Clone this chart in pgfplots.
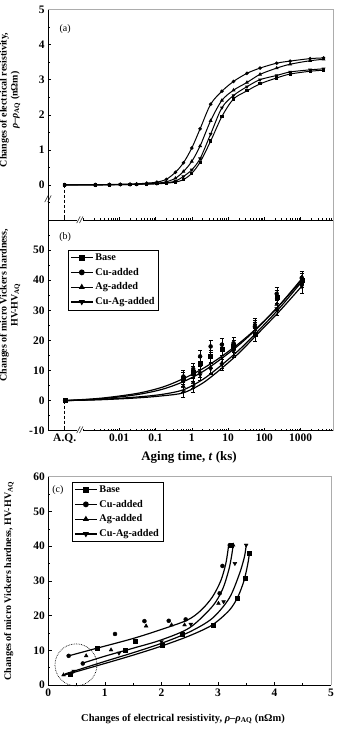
\documentclass[border=0pt]{standalone}
\usepackage{pgfplots}
\pgfplotsset{compat=1.18}
\usepackage{fontspec}
\setmainfont{Liberation Serif}

% log-time minor ticks (time axis is plotted as log10 of t in ks)
\def\logminor{-3,-2.699,-2.523,-2.398,-2.301,-2.222,-2.155,-2.097,-2.046,
 -1.699,-1.523,-1.398,-1.301,-1.222,-1.155,-1.097,-1.046,
 -0.699,-0.523,-0.398,-0.301,-0.222,-0.155,-0.097,-0.046,
 0.301,0.477,0.602,0.699,0.778,0.845,0.903,0.954,
 1.301,1.477,1.602,1.699,1.778,1.845,1.903,1.954,
 2.301,2.477,2.602,2.699,2.778,2.845,2.903,2.954,
 3.301,3.477,3.602,3.699,3.778,3.845}

\tikzset{brk/.style={font=\fontsize{10}{10}\selectfont\bfseries\itshape, inner sep=0.3pt}}

\pgfplotsset{
  panel/.style={
    scale only axis,
    axis x line*=bottom, axis y line*=left,
    tick align=inside,
    major tick length=3.2bp, minor tick length=1.8bp,
    every tick/.style={black, line width=0.5pt},
    axis line style={black, line width=0.7pt},
    /pgf/number format/assume math mode=true,
    tick label style={font=\fontsize{11.5}{13}\selectfont\bfseries},
    clip mode=individual,
  },
  grayframe/.style={after end axis/.code={
    \draw[gray!65, line width=0.6pt] (rel axis cs:0,1) -- (rel axis cs:1,1) -- (rel axis cs:1,0);}},
  grayright/.style={after end axis/.code={
    \draw[gray!65, line width=0.6pt] (rel axis cs:1,1) -- (rel axis cs:1,0);}},
  fitline/.style={black, line width=1.2pt, smooth, no markers},
  mSq/.style={mark=square*, mark options={fill=black, draw=black, solid}},
  mCi/.style={mark=*, mark options={fill=black, draw=black, solid}},
  mUp/.style={mark=triangle*, mark options={fill=black, draw=black, solid}},
  mDn/.style={mark=triangle*, mark options={fill=black, draw=black, solid, rotate=180}},
  legstyle/.style={legend cell align=left,
    legend style={draw=black, line width=0.5pt, fill=white,
      font=\fontsize{10.3}{12}\selectfont\bfseries, inner xsep=2pt, inner ysep=1.5pt,
      row sep=2.2bp, /tikz/every even column/.append style={column sep=2bp}},
    legend image code/.code={\draw[mark repeat=2,mark phase=2, line width=1.2pt, mark size=2.3bp]
      plot coordinates {(0bp,0bp) (11bp,0bp) (22bp,0bp)};}},
}

\begin{document}
\begin{tikzpicture}
\path[use as bounding box] (0,0) rectangle (339bp,-729bp);

% ---------------- (a) resistivity vs aging time ----------------
\begin{axis}[panel, grayframe, at={(48bp,-9.5bp)}, anchor=north west,
  width=285bp, height=210.5bp,
  xmin=-3.96, xmax=3.89, ymin=-1, ymax=5,
  xtick={-3.5,-2,-1,0,1,2,3}, xticklabels={,,,,,,}, minor xtick=\logminor,
  ytick={0,1,2,3,4,5}, minor ytick={-0.5,0.5,1.5,2.5,3.5,4.5}]
\addplot[black, line width=1pt, smooth, mCi, mark size=1.2bp] coordinates {
 (-3.5,0) (-2.66,0.01) (-2.27,0.01) (-1.97,0.02) (-1.70,0.02) (-1.52,0.03) (-1.24,0.05)
 (-0.96,0.08) (-0.70,0.16) (-0.45,0.36) (-0.23,0.63) (0.0,1.05) (0.23,1.60) (0.52,2.30)
 (0.83,2.67) (1.15,2.95) (1.52,3.18) (1.88,3.33) (2.34,3.47) (2.71,3.53) (3.26,3.60) (3.63,3.62)};
\addplot[black, line width=1pt, smooth, mUp, mark size=1.3bp] coordinates {
 (-3.5,0) (-2.66,0.00) (-2.27,0.01) (-1.97,0.01) (-1.70,0.02) (-1.52,0.02) (-1.24,0.04)
 (-0.96,0.05) (-0.70,0.09) (-0.45,0.19) (-0.23,0.38) (0.0,0.67) (0.23,1.11) (0.52,1.83)
 (0.83,2.41) (1.15,2.70) (1.52,2.92) (1.88,3.15) (2.34,3.33) (2.71,3.44) (3.26,3.54) (3.63,3.58)};
\addplot[black, line width=1pt, smooth, mDn, mark size=1.3bp] coordinates {
 (-3.5,0) (-2.66,0.00) (-2.27,0.01) (-1.97,0.01) (-1.70,0.01) (-1.52,0.02) (-1.24,0.03)
 (-0.96,0.04) (-0.70,0.06) (-0.45,0.11) (-0.23,0.24) (0.0,0.43) (0.23,0.75) (0.52,1.45)
 (0.83,2.20) (1.15,2.55) (1.52,2.80) (1.88,3.00) (2.34,3.12) (2.71,3.22) (3.26,3.28) (3.63,3.31)};
\addplot[black, line width=1pt, smooth, mSq, mark size=1.1bp] coordinates {
 (-3.5,0) (-2.66,0.00) (-2.27,0.00) (-1.97,0.01) (-1.70,0.01) (-1.52,0.02) (-1.24,0.02)
 (-0.96,0.03) (-0.70,0.05) (-0.45,0.08) (-0.23,0.15) (0.0,0.33) (0.23,0.65) (0.52,1.25)
 (0.83,1.95) (1.15,2.45) (1.52,2.68) (1.88,2.88) (2.34,3.05) (2.71,3.16) (3.26,3.24) (3.63,3.27)};
\draw[densely dashed, line width=0.8pt] (axis cs:-3.5,0) -- (axis cs:-3.5,-1);
\node[brk] at (axis cs:-3.96,-0.41) {//};
\node[font=\fontsize{10}{12}\selectfont] at (rel axis cs:0.06,0.907) {(a)};
\end{axis}

% ---------------- (b) hardness vs aging time ----------------
\begin{axis}[panel, grayright, legstyle, at={(48bp,-220bp)}, anchor=north west,
  width=285bp, height=210.7bp,
  xmin=-3.96, xmax=3.89, ymin=-10, ymax=60,
  xtick={-3.5,-2,-1,0,1,2,3}, xticklabels={A.Q.,0.01,0.1,1,10,100,1000},
  minor xtick=\logminor,
  ytick={-10,0,10,20,30,40,50}, minor ytick={-5,5,15,25,35,45,55},
  legend style={at={(0.07,0.858)}, anchor=north west},
  error bars/error bar style={line width=0.4pt},
  error bars/error mark options={rotate=90, mark size=2bp, line width=0.4pt}]
\addlegendimage{black, mSq}\addlegendentry{Base}
\addlegendimage{black, mCi}\addlegendentry{Cu-added}
\addlegendimage{black, mUp}\addlegendentry{Ag-added}
\addlegendimage{black, mDn}\addlegendentry{Cu-Ag-added}
% fitted curves
\addplot[fitline] coordinates {(-3.5,0) (-2.5,0.8) (-1.5,2.4) (-0.8,4.5) (-0.23,7.3) (0.3,10.6) (0.8,14.5) (1.3,19.0) (1.8,24.2) (2.4,31.5) (3.03,40.5)};
\addplot[fitline] coordinates {(-3.5,0) (-2.5,0.6) (-1.5,2.0) (-0.8,3.8) (-0.23,6.3) (0.3,9.6) (0.8,13.8) (1.3,18.5) (1.8,24.0) (2.4,31.5) (3.03,40.0)};
\addplot[fitline] coordinates {(-3.5,0) (-2.5,0.4) (-1.5,1.2) (-0.8,2.1) (-0.23,3.6) (0.3,7.0) (0.8,11.6) (1.3,16.8) (1.8,22.8) (2.4,30.5) (3.03,39.5)};
\addplot[fitline] coordinates {(-3.5,0) (-2.5,0.3) (-1.5,0.9) (-0.8,1.6) (-0.23,2.6) (0.3,5.8) (0.8,10.5) (1.3,15.8) (1.8,22.0) (2.4,29.5) (3.03,38.0)};
% measured hardness with scatter
\addplot[only marks, mSq, mark size=2bp, error bars/.cd, y dir=both, y explicit] coordinates {
 (-3.5,0) +- (0,0) (-0.23,7.5) +- (0,2) (0.04,9.5) +- (0,2) (0.23,12.3) +- (0,2) (0.52,14.7) +- (0,2)
 (0.83,17.0) +- (0,2) (1.15,18.0) +- (0,2) (1.74,21.9) +- (0,2) (2.34,34.5) +- (0,2.2) (3.03,40.0) +- (0,2.2)};
\addplot[only marks, mCi, mark size=2bp, error bars/.cd, y dir=both, y explicit] coordinates {
 (-0.23,8.0) +- (0,2) (0.04,10.5) +- (0,2) (0.23,14.7) +- (0,2) (0.52,18.0) +- (0,2)
 (0.83,18.6) +- (0,2) (1.15,19.1) +- (0,2) (1.74,24.7) +- (0,2) (2.34,35.5) +- (0,2.2) (3.03,40.8) +- (0,2.2)};
\addplot[only marks, mUp, mark size=2.2bp, error bars/.cd, y dir=both, y explicit] coordinates {
 (-0.23,4.7) +- (0,1.8) (0.04,6.0) +- (0,1.8) (0.23,9.5) +- (0,1.8) (0.52,11.0) +- (0,1.8)
 (0.83,12.5) +- (0,1.8) (1.15,17.0) +- (0,2) (1.74,25.5) +- (0,2) (2.34,32.0) +- (0,2) (3.03,41.0) +- (0,2)};
\addplot[only marks, mDn, mark size=2.2bp, error bars/.cd, y dir=both, y explicit] coordinates {
 (-0.23,3.0) +- (0,1.8) (0.04,4.7) +- (0,1.8) (0.23,8.5) +- (0,1.8) (0.52,10.5) +- (0,1.8)
 (0.83,12.0) +- (0,1.8) (1.15,16.5) +- (0,2) (1.74,24.0) +- (0,2) (2.34,30.5) +- (0,2) (3.03,38.0) +- (0,2.4)};
\draw[densely dashed, line width=0.8pt] (axis cs:-3.5,0) -- (axis cs:-3.5,-10);
\node[brk, fill=white] at (axis cs:-3.08,60) {//};
\node[brk, fill=white] at (axis cs:-3.08,-10) {//};
\node[font=\fontsize{10}{12}\selectfont] at (rel axis cs:0.06,0.919) {(b)};
\end{axis}

% ---------------- (c) hardness vs resistivity ----------------
\begin{axis}[panel, grayframe, legstyle, at={(48.3bp,-476.7bp)}, anchor=north west,
  width=282.7bp, height=208.3bp,
  xmin=0, xmax=5, ymin=0, ymax=60,
  xtick={0,1,2,3,4,5}, minor xtick={0.5,1.5,2.5,3.5,4.5},
  ytick={0,10,20,30,40,50,60}, minor ytick={5,15,25,35,45,55},
  legend style={at={(0.084,0.975)}, anchor=north west}]
\addlegendimage{black, mSq}\addlegendentry{Base}
\addlegendimage{black, mCi}\addlegendentry{Cu-added}
\addlegendimage{black, mUp}\addlegendentry{Ag-added}
\addlegendimage{black, mDn}\addlegendentry{Cu-Ag-added}
% fitted curves
\addplot[fitline] coordinates {(0.36,8.4) (0.86,10.6) (1.5,13.4) (2.0,16.0) (2.46,18.7) (2.7,21.5) (2.9,25.3) (3.05,30.0) (3.14,35.0) (3.19,40.3)};
\addplot[fitline] coordinates {(0.59,6.2) (1.0,8.3) (1.5,10.6) (2.0,13.0) (2.5,16.5) (2.9,22.6) (3.08,27.5) (3.19,33.0) (3.24,37.0) (3.27,40.3)};
\addplot[fitline] coordinates {(0.30,3.2) (1.0,6.8) (1.5,9.3) (2.0,12.0) (2.5,15.3) (2.9,19.2) (3.2,25.0) (3.38,32.0) (3.47,37.0) (3.50,40.3)};
\addplot[fitline] coordinates {(0.27,2.8) (1.0,6.2) (1.5,8.6) (2.0,11.2) (2.5,14.2) (2.9,17.3) (3.2,21.5) (3.35,25.3) (3.46,30.0) (3.53,35.0) (3.56,38.3)};
% measured points
\addplot[only marks, mSq, mark size=2bp] coordinates {
 (0.39,3.2) (0.86,10.6) (1.36,10.1) (1.54,12.5) (2.01,11.5) (2.37,14.5) (2.91,17.1) (3.34,25.0) (3.49,30.7) (3.24,40.3) (3.55,38.1)};
\addplot[only marks, mCi, mark size=2bp] coordinates {
 (0.36,8.4) (0.61,6.2) (1.18,14.7) (1.70,18.4) (2.13,18.5) (2.43,18.9) (3.03,26.4) (3.08,34.3) (3.21,40.3)};
\addplot[only marks, mUp, mark size=2.2bp] coordinates {
 (0.27,2.9) (0.67,8.4) (1.11,10.1) (1.73,17.0) (2.18,17.3) (2.41,17.3) (3.01,23.5) (3.27,40.3)};
\addplot[only marks, mDn, mark size=2.2bp] coordinates {
 (0.45,4.0) (1.25,9.2) (2.0,12.5) (2.52,17.5) (3.1,24.0) (3.3,35.0) (3.5,40.3)};
\draw[densely dotted, line width=0.7pt] (axis cs:0.49,5.8) circle [radius=21bp];
\node[font=\fontsize{10}{12}\selectfont] at (rel axis cs:0.034,0.936) {(c)};
\end{axis}

% axis titles
\node[rotate=90, align=center, font=\fontsize{10}{11}\selectfont\bfseries] at (10bp,-100bp)
  {Changes of electrical resistivity,\\ \textit{ρ}–\textit{ρ}\textsubscript{AQ} (nΩm)};
\node[rotate=90, align=center, font=\fontsize{10}{11}\selectfont\bfseries] at (10bp,-305bp)
  {Changes of micro Vickers hardness,\\ HV-HV\textsubscript{AQ}};
\node[rotate=90, font=\fontsize{10}{12}\selectfont\bfseries] at (9bp,-581bp)
  {Changes of micro Vickers hardness, HV-HV\textsubscript{AQ}};
\node[font=\fontsize{13}{15}\selectfont\bfseries] at (189bp,-457bp) {Aging time, \textit{t} (ks)};
\node[font=\fontsize{10.5}{12}\selectfont\bfseries] at (183bp,-719bp)
  {Changes of electrical resistivity, \textit{ρ}–\textit{ρ}\textsubscript{AQ} (nΩm)};
\end{tikzpicture}
\end{document}
